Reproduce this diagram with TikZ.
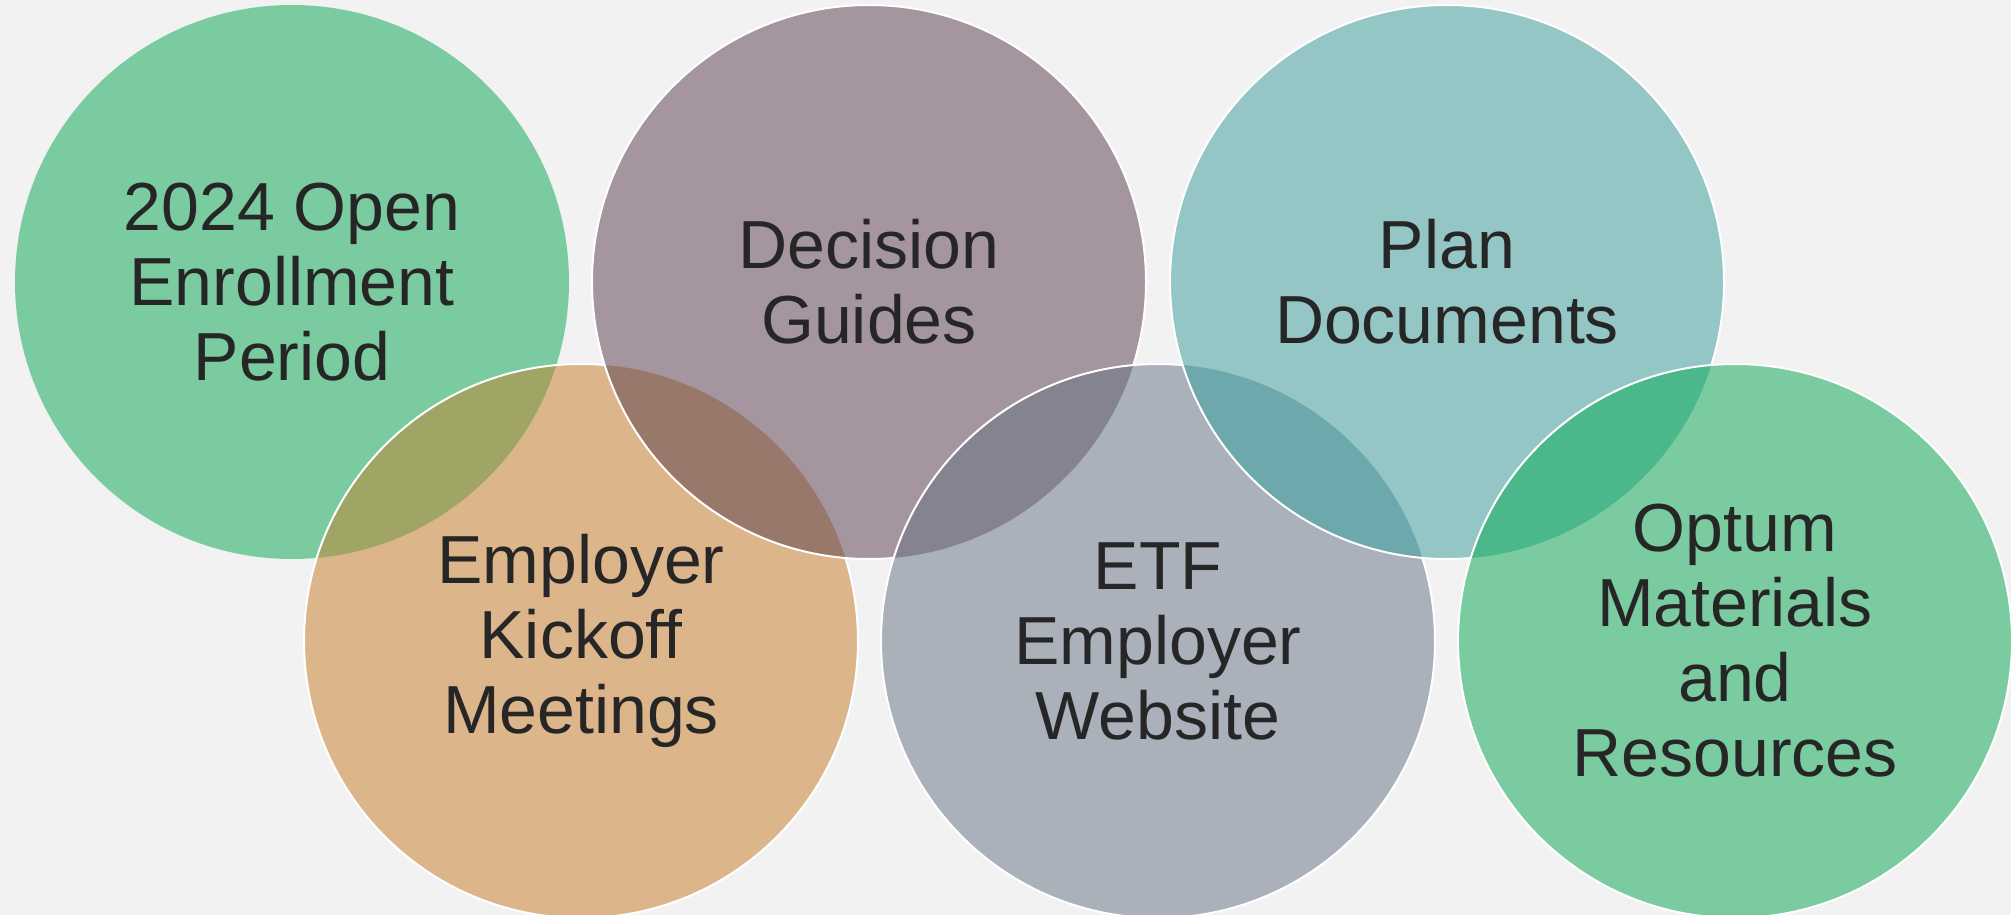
\documentclass[tikz,border=0pt]{standalone}
\usepackage{fontspec}
\setmainfont{Liberation Sans}
\definecolor{bg}{HTML}{F2F2F2}
\definecolor{cgreen}{HTML}{7ACCA0}
\definecolor{corange}{HTML}{DCB68A}
\definecolor{cpurple}{HTML}{A5959F}
\definecolor{cgray}{HTML}{AAB1BB}
\definecolor{cteal}{HTML}{94C6C6}
\definecolor{lgo}{HTML}{A0A565}
\definecolor{lop}{HTML}{98786B}
\definecolor{lpg}{HTML}{84838F}
\definecolor{lgt}{HTML}{6CA8AC}
\definecolor{ltg}{HTML}{4AB88A}
\definecolor{txt}{HTML}{262626}
\begin{document}
\begin{tikzpicture}[x=1pt,y=-1pt,
  bub/.style={circle,inner sep=0pt,minimum size=554pt},
  ring/.style={draw=white,line width=2pt},
  label/.style={align=center,text=txt,font=\fontsize{68}{75}\selectfont}]
\useasboundingbox (0,0) rectangle (2011,915);
\clip (0,0) rectangle (2011,915);
\fill[bg] (0,0) rectangle (2011,915);
\coordinate (p1) at (292,282);
\coordinate (p2) at (581,641);
\coordinate (p3) at (869,282);
\coordinate (p4) at (1158,641);
\coordinate (p5) at (1447,282);
\coordinate (p6) at (1735,641);
% circle 1
\node[bub,fill=cgreen] (c1) at (p1) {};
% circle 2
\node[bub,fill=corange] (c2) at (p2) {};
\begin{scope}\clip (p1) circle (277); \fill[lgo] (p2) circle (277);\end{scope}
\node[bub,ring] at (p2) {};
% circle 3
\node[bub,fill=cpurple] (c3) at (p3) {};
\begin{scope}\clip (p2) circle (277); \fill[lop] (p3) circle (277);\end{scope}
\node[bub,ring] at (p3) {};
% circle 4
\node[bub,fill=cgray] (c4) at (p4) {};
\begin{scope}\clip (p3) circle (277); \fill[lpg] (p4) circle (277);\end{scope}
\node[bub,ring] at (p4) {};
% circle 5
\node[bub,fill=cteal] (c5) at (p5) {};
\begin{scope}\clip (p4) circle (277); \fill[lgt] (p5) circle (277);\end{scope}
\node[bub,ring] at (p5) {};
% circle 6
\node[bub,fill=cgreen] (c6) at (p6) {};
\begin{scope}\clip (p5) circle (277); \fill[ltg] (p6) circle (277);\end{scope}
\node[bub,ring] at (p6) {};
% labels
\node[label] (t1) at (c1.center) {2024 Open\\Enrollment\\Period};
\node[label] (t2) at (c2.center) {Employer\\Kickoff\\Meetings};
\node[label] (t3) at (c3.center) {Decision\\Guides};
\node[label] (t4) at (c4.center) {ETF\\Employer\\Website};
\node[label] (t5) at (c5.center) {Plan\\Documents};
\node[label] (t6) at (c6.center) {Optum\\Materials\\and\\Resources};
\end{tikzpicture}
\end{document}
